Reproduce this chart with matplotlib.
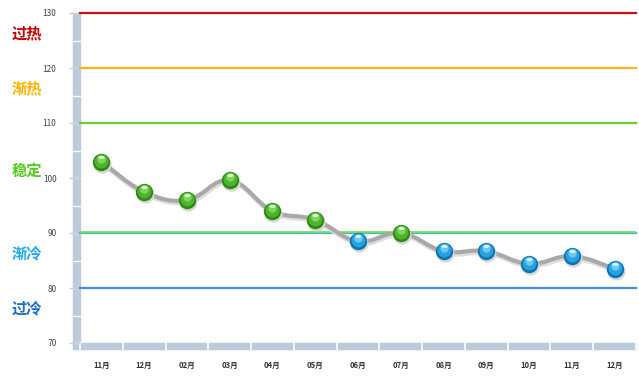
import matplotlib.pyplot as plt
import matplotlib.transforms as mtransforms
from matplotlib.path import Path
from matplotlib.patches import PathPatch, Rectangle

plt.rcParams['font.family'] = ['Noto Sans CJK SC', 'DejaVu Sans']

months = ['11月', '12月', '02月', '03月', '04月', '05月', '06月',
          '07月', '08月', '09月', '10月', '11月', '12月']
values = [103, 97.5, 96, 99.6, 94, 92.4, 88.5, 90, 86.7, 86.7, 84.4, 85.8, 83.5]

levels = [130, 120, 110, 90, 80]
level_colors = ['#cc1111', '#ffb11b', '#66cc33', '#33bbee', '#3d8fdd']
zone_names = ['过热', '渐热', '稳定', '渐冷', '过冷']
zone_pos = [126.3, 116.3, 101.4, 86.3, 76.3]
zone_colors = ['#cc0000', '#ffb300', '#55cc22', '#22aaee', '#1f6fc8']

fig = plt.figure(figsize=(6.39, 3.83), dpi=100)
ax = fig.add_axes([80 / 639, 40 / 383, 556 / 639, 330 / 383])
ax.set_xlim(-0.5, len(months) - 0.5)
ax.set_ylim(70, 130)
for s in ax.spines.values():
    s.set_visible(False)


def shifted(dx, dy):
    return mtransforms.offset_copy(ax.transData, fig=fig, x=dx, y=dy, units='dots')


# level lines
for lv, c in zip(levels, level_colors):
    ax.axhline(lv, color=c, lw=1.6, zorder=2, clip_on=False)
ax.plot([-0.5, len(months) - 0.5], [90, 90], color='#88dd44', lw=1.3,
        transform=shifted(0, 1.3), zorder=2)

# axis bars
ax.add_patch(Rectangle((-7 / 556, -6 / 330), 7 / 556, 336 / 330, transform=ax.transAxes,
                       color='#bccbdb', clip_on=False, zorder=1))
for v in range(70, 131, 5):
    ax.plot([-0.5 - 7 / 556 * 13, -0.5], [v, v], color='white', lw=0.9,
            clip_on=False, zorder=1.5)
ax.add_patch(Rectangle((0, -6 / 330), 1, 6 / 330, transform=ax.transAxes,
                       color='#bccbdb', clip_on=False, zorder=1))
for i in range(len(months) + 1):
    ax.plot([i - 0.5, i - 0.5], [70 - 6 / 5.5, 70], color='white', lw=1.2,
            clip_on=False, zorder=1.5)

# ticks
ax.set_yticks(range(70, 131, 10))
ax.tick_params(axis='y', length=8, width=1, color='#c5d0dc', labelsize=6,
               labelcolor='#444444', pad=9)
ax.set_xticks(range(len(months)))
ax.set_xticklabels(months, fontsize=5.5, fontweight='bold', color='#333333')
ax.tick_params(axis='x', length=0, pad=13)

# zone labels
for name, y, c in zip(zone_names, zone_pos, zone_colors):
    fig.text(12 / 639, ax.transData.transform((0, y))[1] / 383, name, color=c,
             fontsize=11, fontweight='bold', va='center', ha='left')

# smooth gray line through points
xs = list(range(len(values)))
verts = [(xs[0], values[0])]
codes = [Path.MOVETO]
t = 0.2
n = len(values)
for i in range(n - 1):
    p0 = (xs[max(i - 1, 0)], values[max(i - 1, 0)])
    p1 = (xs[i], values[i])
    p2 = (xs[i + 1], values[i + 1])
    p3 = (xs[min(i + 2, n - 1)], values[min(i + 2, n - 1)])
    c1 = (p1[0] + (p2[0] - p0[0]) * t, p1[1] + (p2[1] - p0[1]) * t)
    c2 = (p2[0] - (p3[0] - p1[0]) * t, p2[1] - (p3[1] - p1[1]) * t)
    verts += [c1, c2, p2]
    codes += [Path.CURVE4] * 3
curve = Path(verts, codes)
ax.add_patch(PathPatch(curve, fill=False, edgecolor='#dddddd', lw=3.5, zorder=3,
                       transform=shifted(1, -2)))
ax.add_patch(PathPatch(curve, fill=False, edgecolor='#a9a9a9', lw=3, zorder=3.1,
                       capstyle='round'))

# glossy markers
for x, v in zip(xs, values):
    if v >= 90:
        dark, mid, light = '#2d8a10', '#4db52b', '#9be07a'
    else:
        dark, mid, light = '#0a74b4', '#26a3de', '#8ad8f7'
    ax.plot(x, v, 'o', ms=13, color='#d6d6d6', mew=0, zorder=3.5, transform=shifted(1, -2))
    ax.plot(x, v, 'o', ms=12.5, color=dark, mew=0, zorder=4)
    ax.plot(x, v, 'o', ms=10, color=mid, mew=0, zorder=5, transform=shifted(0, 1))
    ax.plot(x, v, 'o', ms=6, color=light, mew=0, zorder=5.5, alpha=0.7, transform=shifted(0, 3))
    ax.plot(x, v, marker=Path.unit_circle().transformed(mtransforms.Affine2D().scale(1.7, 0.8)),
            ms=4.5, color='white', alpha=0.8, mew=0, zorder=6, transform=shifted(0, 5))

fig.savefig('out.png', dpi=100, facecolor='white')
